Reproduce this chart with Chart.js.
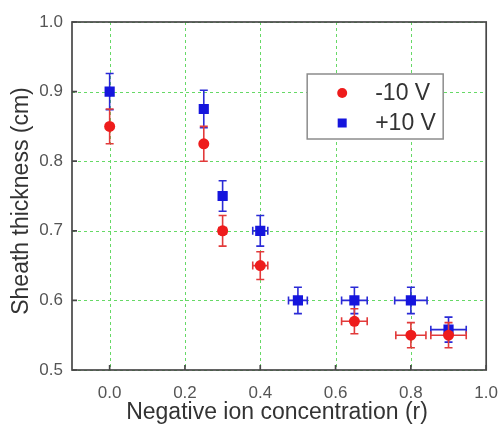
<!DOCTYPE html>
<html>
<head>
<meta charset="utf-8">
<script src="https://cdn.jsdelivr.net/npm/chart.js@4/dist/chart.umd.min.js"></script>
<style>
  html, body { margin: 0; padding: 0; background: #fff; }
  #wrap { width: 501px; height: 427px; }
</style>
</head>
<body>
<div id="wrap"><canvas id="sheathChart" width="501" height="427"></canvas></div>
<script>
// data
const seriesLabels = ["-10 V", "+10 V"];

const negX    = [0.0, 0.25, 0.30, 0.40, 0.65, 0.80, 0.90];
const negY    = [0.850, 0.825, 0.700, 0.650, 0.570, 0.550, 0.550];
const negYErr = [0.025, 0.025, 0.022, 0.020, 0.018, 0.018, 0.018];
const negXErr = [0, 0, 0.010, 0.020, 0.034, 0.040, 0.047];

const posX    = [0.0, 0.25, 0.30, 0.40, 0.50, 0.65, 0.80, 0.90];
const posY    = [0.900, 0.875, 0.750, 0.700, 0.600, 0.600, 0.600, 0.558];
const posYErr = [0.026, 0.027, 0.022, 0.022, 0.019, 0.019, 0.019, 0.018];
const posXErr = [0, 0, 0.010, 0.020, 0.025, 0.034, 0.043, 0.047];

const xTicks = [0.0, 0.2, 0.4, 0.6, 0.8, 1.0];
const yTicks = [0.5, 0.6, 0.7, 0.8, 0.9, 1.0];

const xTitle = "Negative ion concentration (r)";
const yTitle = "Sheath thickness (cm)";

const RED = "#ee1c1c";
const BLUE = "#1515dd";
const FONT = "'Liberation Sans', Arial, sans-serif";

const toPoints = (xs, ys) => xs.map((x, i) => ({ x: x, y: ys[i] }));

// dashed green grid, under everything
const dashedGrid = {
    id: "dashedGrid",
    beforeDatasetsDraw(chart) {
        const { ctx, chartArea: a } = chart;
        const xs = chart.scales.x, ys = chart.scales.y;
        ctx.save();
        ctx.strokeStyle = "#66d966";
        ctx.lineWidth = 1;
        ctx.setLineDash([3, 3]);
        ctx.beginPath();
        xTicks.forEach(v => {
            const px = Math.round(xs.getPixelForValue(v)) + 0.5;
            ctx.moveTo(px, a.top); ctx.lineTo(px, a.bottom);
        });
        yTicks.forEach(v => {
            const py = Math.round(ys.getPixelForValue(v)) + 0.5;
            ctx.moveTo(a.left, py); ctx.lineTo(a.right, py);
        });
        ctx.stroke();
        ctx.restore();
    }
};

// error bars, drawn under each dataset's markers
const errorBars = {
    id: "errorBars",
    beforeDatasetDraw(chart, args) {
        const ds = chart.data.datasets[args.index];
        const xs = chart.scales.x, ys = chart.scales.y;
        const ctx = chart.ctx;
        const cap = 4;
        ctx.save();
        ctx.strokeStyle = ds.errColor;
        ctx.lineWidth = 1.6;
        ds.data.forEach((p, i) => {
            const px = xs.getPixelForValue(p.x);
            const py = ys.getPixelForValue(p.y);
            const ye = ds.yErr[i], xe = ds.xErr[i];
            ctx.beginPath();
            if (ye > 0) {
                const t = ys.getPixelForValue(p.y + ye);
                const b = ys.getPixelForValue(p.y - ye);
                ctx.moveTo(px, t); ctx.lineTo(px, b);
                ctx.moveTo(px - cap, t); ctx.lineTo(px + cap, t);
                ctx.moveTo(px - cap, b); ctx.lineTo(px + cap, b);
            }
            if (xe > 0) {
                const l = xs.getPixelForValue(p.x - xe);
                const r = xs.getPixelForValue(p.x + xe);
                ctx.moveTo(l, py); ctx.lineTo(r, py);
                ctx.moveTo(l, py - cap); ctx.lineTo(l, py + cap);
                ctx.moveTo(r, py - cap); ctx.lineTo(r, py + cap);
            }
            ctx.stroke();
        });
        ctx.restore();
    }
};

// box around the plot + inward tick marks + axis titles + legend
const frameAndLegend = {
    id: "frameAndLegend",
    afterDraw(chart) {
        const { ctx, chartArea: a } = chart;
        const xs = chart.scales.x, ys = chart.scales.y;
        ctx.save();
        ctx.strokeStyle = "#484848";
        ctx.lineWidth = 1.7;
        ctx.beginPath();
        xTicks.forEach(v => {
            const px = xs.getPixelForValue(v);
            ctx.moveTo(px, a.bottom); ctx.lineTo(px, a.bottom - 5);
        });
        yTicks.forEach(v => {
            const py = ys.getPixelForValue(v);
            ctx.moveTo(a.left, py); ctx.lineTo(a.left + 5, py);
        });
        ctx.stroke();
        ctx.strokeRect(a.left, a.top, a.right - a.left, a.bottom - a.top);

        // axis titles
        ctx.fillStyle = "#333";
        ctx.font = "23px " + FONT;
        ctx.textAlign = "center";
        ctx.textBaseline = "middle";
        ctx.fillText(xTitle, 277, 413);

        ctx.save();
        ctx.translate(22, 201);
        ctx.rotate(-Math.PI / 2);
        ctx.fillText(yTitle, 0, 0);
        ctx.restore();

        // legend
        const lx = a.right - 179, ly = a.top + 52, lw = 136, lh = 65;
        ctx.fillStyle = "#fff";
        ctx.fillRect(lx, ly, lw, lh);
        ctx.strokeStyle = "#8c8c8c";
        ctx.lineWidth = 1.5;
        ctx.strokeRect(lx, ly, lw, lh);

        ctx.fillStyle = RED;
        ctx.beginPath();
        ctx.arc(lx + 35, ly + 19, 5, 0, Math.PI * 2);
        ctx.fill();
        ctx.fillStyle = BLUE;
        ctx.fillRect(lx + 30.5, ly + 44.5, 9, 9);

        ctx.fillStyle = "#333";
        ctx.font = "23px " + FONT;
        ctx.textBaseline = "middle";
        ctx.textAlign = "left";
        ctx.fillText(seriesLabels[0], lx + 68, ly + 20);
        ctx.fillText(seriesLabels[1], lx + 68, ly + 50);
        ctx.restore();
    }
};

new Chart(document.getElementById("sheathChart").getContext("2d"), {
    type: "scatter",
    data: {
        datasets: [
            {
                label: seriesLabels[0],
                data: toPoints(negX, negY),
                yErr: negYErr,
                xErr: negXErr,
                errColor: "#e23a3a",
                pointStyle: "circle",
                pointRadius: 5.5,
                pointHoverRadius: 5.5,
                backgroundColor: RED,
                borderColor: RED,
                borderWidth: 0,
            },
            {
                label: seriesLabels[1],
                data: toPoints(posX, posY),
                yErr: posYErr,
                xErr: posXErr,
                errColor: "#2a2ad6",
                pointStyle: "rect",
                pointRadius: 7.2,
                pointHoverRadius: 7.2,
                backgroundColor: BLUE,
                borderColor: BLUE,
                borderWidth: 0,
            },
        ],
    },
    options: {
        responsive: false,
        animation: false,
        events: [],
        layout: { padding: { top: 22, right: 2, left: 0, bottom: 0 } },
        plugins: {
            legend: { display: false },
            tooltip: { enabled: false },
        },
        scales: {
            x: {
                type: "linear",
                min: -0.1,
                max: 1.0,
                afterFit: (s) => { s.height = 57; },
                afterBuildTicks: (s) => { s.ticks = xTicks.map(v => ({ value: v })); },
                // tickLength only pushes the labels down, grid itself is drawn by dashedGrid
                grid: { display: false, drawTicks: true, tickLength: 10 },
                border: { display: false },
                ticks: {
                    padding: 3,
                    color: "#555",
                    font: { family: FONT, size: 17 },
                    callback: (v) => Number(v).toFixed(1),
                },
            },
            y: {
                type: "linear",
                min: 0.5,
                max: 1.0,
                afterFit: (s) => { s.width = 72; },
                afterBuildTicks: (s) => { s.ticks = yTicks.map(v => ({ value: v })); },
                grid: { display: false, drawTicks: true, tickLength: 6 },
                border: { display: false },
                ticks: {
                    padding: 3,
                    color: "#555",
                    font: { family: FONT, size: 17 },
                    callback: (v) => Number(v).toFixed(1),
                },
            },
        },
    },
    plugins: [dashedGrid, errorBars, frameAndLegend],
});
</script>
</body>
</html>
